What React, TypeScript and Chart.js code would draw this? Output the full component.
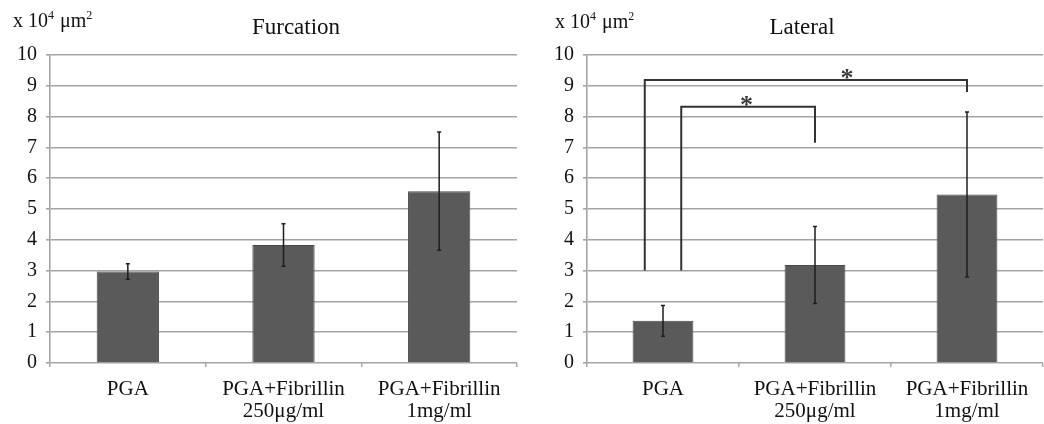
import React, { useEffect, useRef } from "react";
import { Chart, registerables } from "chart.js";

Chart.register(...registerables);

const categories: string[][] = [["PGA"], ["PGA+Fibrillin", "250μg/ml"], ["PGA+Fibrillin", "1mg/ml"]];
const yTicks = [0, 1, 2, 3, 4, 5, 6, 7, 8, 9, 10];

const furcationMeans = [2.97, 3.83, 5.58];
const furcationErrors = [0.25, 0.69, 1.92];

const lateralMeans = [1.37, 3.18, 5.47];
const lateralErrors = [0.5, 1.25, 2.68];

// significance brackets (lateral), x in category-index units
const bracketFrom = [-0.12, 0.12];
const bracketTo = [2, 1];
const bracketLevel = [9.19, 8.32];
const bracketLeftEnd = [3, 3];
const bracketRightEnd = [8.8, 7.15];
const bracketStarX = [1.21, 0.55];

const FONT = '"Liberation Serif", "Times New Roman", serif';

type PanelProps = {
  title: string;
  means: number[];
  errors: number[];
  brackets: boolean;
  width: number;
  left: number;
  axisWidth: number;
  rightPad: number;
  titleX: number;
  unitX: number;
  unitY: number;
};

function Panel(p: PanelProps) {
  const ref = useRef<HTMLCanvasElement | null>(null);
  useEffect(() => {
    if (!ref.current) return;
    const extras = {
      id: "extras",
      afterDatasetsDraw(chart: any) {
        const ctx = chart.ctx;
        const xs = chart.scales.x;
        const ys = chart.scales.y;
        ctx.save();
        // error bars
        ctx.strokeStyle = "#1e1e1e";
        ctx.lineWidth = 1.5;
        p.means.forEach((m, i) => {
          const x = xs.getPixelForValue(i);
          const t = ys.getPixelForValue(m + p.errors[i]);
          const b = ys.getPixelForValue(m - p.errors[i]);
          ctx.beginPath();
          ctx.moveTo(x, t);
          ctx.lineTo(x, b);
          ctx.moveTo(x - 2, t);
          ctx.lineTo(x + 2, t);
          ctx.moveTo(x - 2, b);
          ctx.lineTo(x + 2, b);
          ctx.stroke();
        });
        if (p.brackets) {
          const cw = xs.getPixelForValue(1) - xs.getPixelForValue(0);
          bracketFrom.forEach((f, i) => {
            const x1 = xs.getPixelForValue(0) + f * cw;
            const x2 = xs.getPixelForValue(bracketTo[i]);
            const yl = ys.getPixelForValue(bracketLevel[i]);
            ctx.strokeStyle = "#333";
            ctx.lineWidth = 2;
            ctx.beginPath();
            ctx.moveTo(x1, ys.getPixelForValue(bracketLeftEnd[i]));
            ctx.lineTo(x1, yl);
            ctx.lineTo(x2, yl);
            ctx.lineTo(x2, ys.getPixelForValue(bracketRightEnd[i]));
            ctx.stroke();
            ctx.fillStyle = "#3a3a3a";
            ctx.font = "bold 26px " + FONT;
            ctx.textAlign = "center";
            ctx.textBaseline = "alphabetic";
            ctx.fillText("*", xs.getPixelForValue(0) + bracketStarX[i] * cw, yl + 6);
          });
        }
        ctx.restore();
      },
      afterDraw(chart: any) {
        const ctx = chart.ctx;
        ctx.save();
        ctx.fillStyle = "#111";
        ctx.textBaseline = "alphabetic";
        ctx.textAlign = "center";
        ctx.font = "23px " + FONT;
        ctx.fillText(p.title, p.titleX, 34);
        ctx.textAlign = "left";
        let x = p.unitX;
        const y = p.unitY;
        const parts: [string, boolean][] = [["x 10", false], ["4", true], [" μm", false], ["2", true]];
        parts.forEach(([s, sup]) => {
          ctx.font = (sup ? "12px " : "20px ") + FONT;
          ctx.fillText(s, x, sup ? y - 8 : y);
          x += ctx.measureText(s).width + (sup ? 1 : 0);
        });
        ctx.restore();
      },
    };
    const chart = new Chart(ref.current, {
      type: "bar",
      data: {
        labels: categories,
        datasets: [
          {
            data: p.means,
            backgroundColor: "#5a5a5a",
            borderColor: "#4a4a4a",
            borderWidth: 1,
            barPercentage: 0.4,
            categoryPercentage: 1,
          },
        ],
      },
      options: {
        responsive: false,
        animation: false,
        layout: { padding: { top: 55, right: p.rightPad, left: 0, bottom: 0 } },
        plugins: { legend: { display: false }, tooltip: { enabled: false }, title: { display: false } },
        scales: {
          x: {
            afterFit: (s: any) => {
              s.height = 61;
            },
            grid: { display: true, drawOnChartArea: false, tickLength: 4, color: "#a8a8a8", lineWidth: 1.5 },
            border: { display: false },
            ticks: {
              color: "#111",
              font: { family: FONT, size: 21, lineHeight: 1.05 },
              padding: 11,
              maxRotation: 0,
              autoSkip: false,
            },
          },
          y: {
            min: 0,
            max: 10,
            afterFit: (s: any) => {
              s.width = p.axisWidth;
            },
            afterBuildTicks: (s: any) => {
              s.ticks = yTicks.map((v) => ({ value: v }));
            },
            grid: { color: "#a4a4a4", lineWidth: 1.6, tickLength: 4 },
            border: { display: true, color: "#a4a4a4", width: 1.6 },
            ticks: { color: "#111", font: { family: FONT, size: 20 }, padding: 9 },
          },
        },
      },
      plugins: [extras],
    });
    return () => chart.destroy();
  }, []);
  return (
    <canvas
      ref={ref}
      width={p.width}
      height={424}
      style={{ position: "absolute", left: p.left, top: 0, width: p.width, height: 424 }}
    />
  );
}

export default function App() {
  useEffect(() => {
    document.body.style.margin = "0";
  }, []);
  return (
    <div style={{ position: "fixed", left: 0, top: 0, width: 1044, height: 424, background: "#fff" }}>
      <Panel
        title="Furcation"
        means={furcationMeans}
        errors={furcationErrors}
        brackets={false}
        width={520}
        left={0}
        axisWidth={50}
        rightPad={3}
        titleX={296}
        unitX={13}
        unitY={27}
      />
      <Panel
        title="Lateral"
        means={lateralMeans}
        errors={lateralErrors}
        brackets={true}
        width={524}
        left={520}
        axisWidth={67}
        rightPad={1}
        titleX={282}
        unitX={35}
        unitY={28}
      />
    </div>
  );
}
